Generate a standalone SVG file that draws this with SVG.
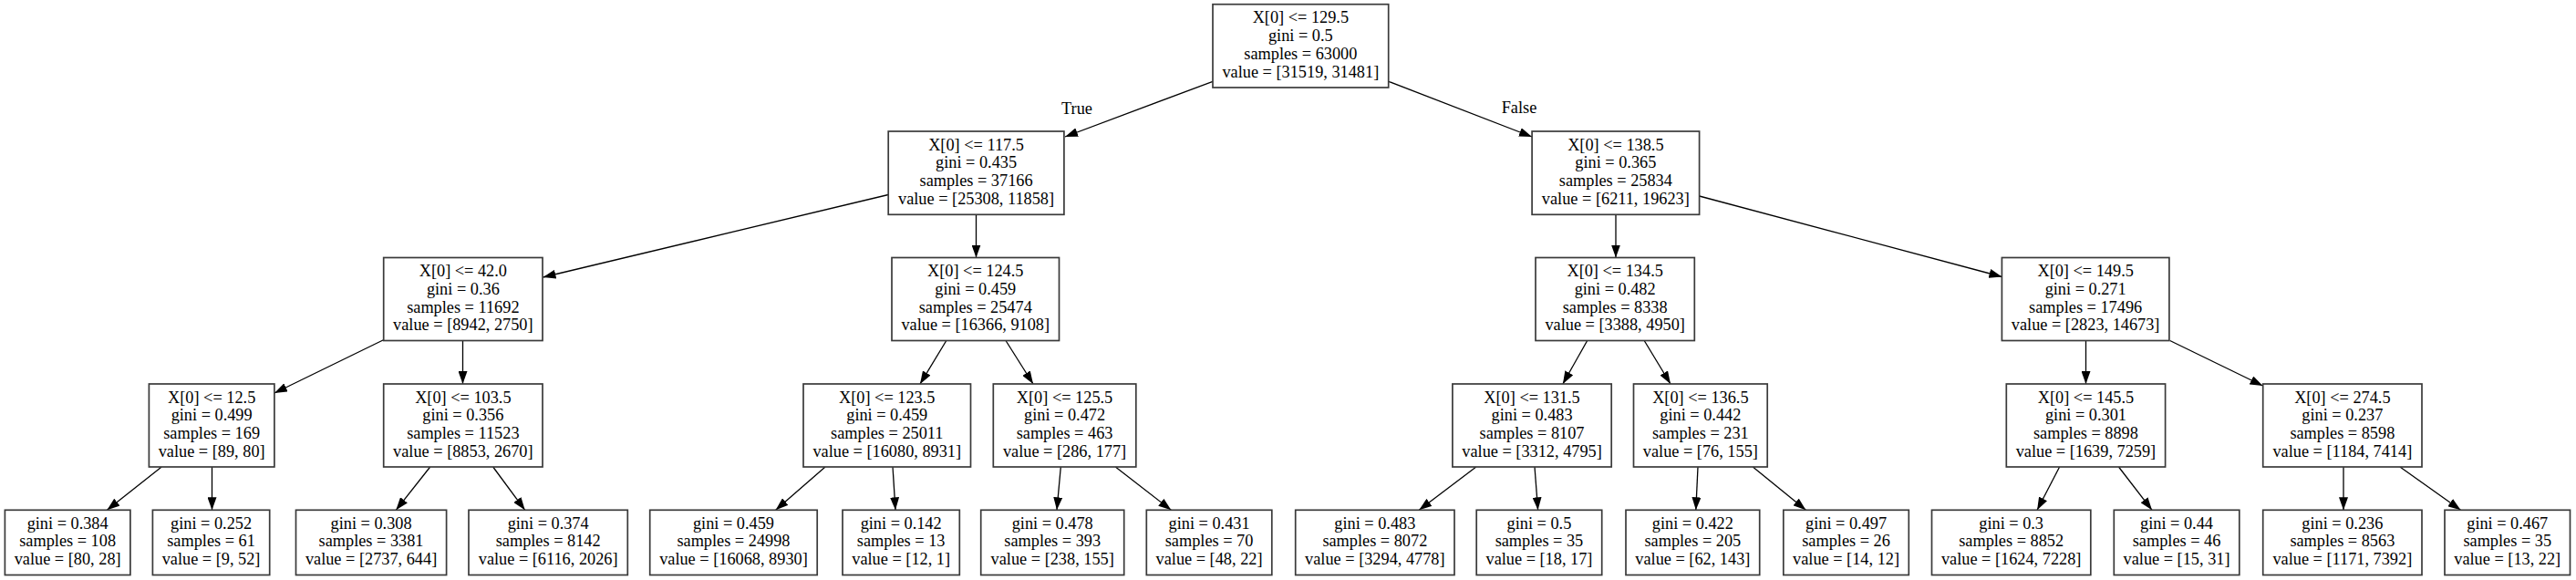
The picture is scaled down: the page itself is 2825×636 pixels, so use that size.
<svg xmlns="http://www.w3.org/2000/svg" width="2825" height="636" viewBox="0 0 2825 636">
<style>
.box{fill:#fff;stroke:#3a3a3a;stroke-width:1.7}
.t{font-family:"Liberation Serif","Times New Roman",serif;font-size:18.3px;fill:#000;text-anchor:middle}
.e{stroke:#000;stroke-width:1.3;fill:none;marker-end:url(#ah)}
</style>
<defs>
<marker id="ah" markerUnits="userSpaceOnUse" viewBox="0 0 14 10" refX="14" refY="5" markerWidth="14" markerHeight="10" orient="auto">
<path d="M0,0 L14,5 L0,10 Z" fill="#000"/>
</marker>
</defs>
<rect width="2825" height="636" fill="#fff"/>
<g id="connectors">
<line class="e" x1="1330" y1="89.3" x2="1168" y2="150"/>
<line class="e" x1="1522.7" y1="89.3" x2="1680" y2="150"/>
<line class="e" x1="974.2" y1="213.5" x2="595.5" y2="304"/>
<line class="e" x1="1070.5" y1="235.3" x2="1070.5" y2="282.5"/>
<line class="e" x1="1772" y1="235.3" x2="1772" y2="282.5"/>
<line class="e" x1="1863.6" y1="215" x2="2195.4" y2="303.5"/>
<line class="e" x1="421" y1="372.5" x2="301" y2="431"/>
<line class="e" x1="507.5" y1="373.5" x2="507.5" y2="421"/>
<line class="e" x1="1037.8" y1="373.5" x2="1009" y2="421"/>
<line class="e" x1="1103" y1="373.5" x2="1133" y2="421"/>
<line class="e" x1="1740.7" y1="373.5" x2="1713.9" y2="421"/>
<line class="e" x1="1803.2" y1="373.5" x2="1832" y2="421"/>
<line class="e" x1="2287.5" y1="373.5" x2="2287.5" y2="421"/>
<line class="e" x1="2379.7" y1="373.5" x2="2481.5" y2="423"/>
<line class="e" x1="177.2" y1="512" x2="117.4" y2="559.3"/>
<line class="e" x1="232.5" y1="512" x2="232.5" y2="559.3"/>
<line class="e" x1="471.7" y1="512" x2="434.3" y2="559.3"/>
<line class="e" x1="540.7" y1="512" x2="575.7" y2="559.3"/>
<line class="e" x1="905" y1="512" x2="850.7" y2="559.3"/>
<line class="e" x1="979" y1="512" x2="982" y2="559.3"/>
<line class="e" x1="1163.3" y1="512" x2="1159" y2="559.3"/>
<line class="e" x1="1223.3" y1="512" x2="1284.3" y2="559.3"/>
<line class="e" x1="1618.8" y1="512" x2="1556.3" y2="559.3"/>
<line class="e" x1="1683" y1="512" x2="1686.6" y2="559.3"/>
<line class="e" x1="1862" y1="512" x2="1859.8" y2="559.3"/>
<line class="e" x1="1922.3" y1="512" x2="1980.4" y2="559.3"/>
<line class="e" x1="2258.6" y1="512" x2="2234.1" y2="559.3"/>
<line class="e" x1="2323.5" y1="512" x2="2360" y2="559.3"/>
<line class="e" x1="2570" y1="512" x2="2570" y2="559.3"/>
<line class="e" x1="2632" y1="512" x2="2698.5" y2="559.3"/>
<text class="t" x="1181" y="125">True</text>
<text class="t" x="1666" y="124">False</text>
</g>
<g id="n0"><rect class="box" x="1330" y="4.7" width="192.7" height="91.3"/>
<text class="t" x="1426.35" y="25.2">X[0] &lt;= 129.5</text><text class="t" x="1426.35" y="45">gini = 0.5</text><text class="t" x="1426.35" y="64.8">samples = 63000</text><text class="t" x="1426.35" y="84.6">value = [31519, 31481]</text></g>
<g id="n1"><rect class="box" x="974.2" y="144" width="192.7" height="91.3"/>
<text class="t" x="1070.55" y="164.5">X[0] &lt;= 117.5</text><text class="t" x="1070.55" y="184.3">gini = 0.435</text><text class="t" x="1070.55" y="204.1">samples = 37166</text><text class="t" x="1070.55" y="223.9">value = [25308, 11858]</text></g>
<g id="n16"><rect class="box" x="1680.1" y="144" width="183.5" height="91.3"/>
<text class="t" x="1771.85" y="164.5">X[0] &lt;= 138.5</text><text class="t" x="1771.85" y="184.3">gini = 0.365</text><text class="t" x="1771.85" y="204.1">samples = 25834</text><text class="t" x="1771.85" y="223.9">value = [6211, 19623]</text></g>
<g id="n2"><rect class="box" x="420.7" y="282.5" width="174.3" height="91"/>
<text class="t" x="507.85" y="303">X[0] &lt;= 42.0</text><text class="t" x="507.85" y="322.8">gini = 0.36</text><text class="t" x="507.85" y="342.6">samples = 11692</text><text class="t" x="507.85" y="362.4">value = [8942, 2750]</text></g>
<g id="n9"><rect class="box" x="978" y="282.5" width="183.5" height="91"/>
<text class="t" x="1069.75" y="303">X[0] &lt;= 124.5</text><text class="t" x="1069.75" y="322.8">gini = 0.459</text><text class="t" x="1069.75" y="342.6">samples = 25474</text><text class="t" x="1069.75" y="362.4">value = [16366, 9108]</text></g>
<g id="n17"><rect class="box" x="1684" y="282.5" width="174.3" height="91"/>
<text class="t" x="1771.15" y="303">X[0] &lt;= 134.5</text><text class="t" x="1771.15" y="322.8">gini = 0.482</text><text class="t" x="1771.15" y="342.6">samples = 8338</text><text class="t" x="1771.15" y="362.4">value = [3388, 4950]</text></g>
<g id="n24"><rect class="box" x="2195.4" y="282.5" width="183.5" height="91"/>
<text class="t" x="2287.15" y="303">X[0] &lt;= 149.5</text><text class="t" x="2287.15" y="322.8">gini = 0.271</text><text class="t" x="2287.15" y="342.6">samples = 17496</text><text class="t" x="2287.15" y="362.4">value = [2823, 14673]</text></g>
<g id="n3"><rect class="box" x="163.4" y="421" width="137.5" height="91"/>
<text class="t" x="232.15" y="441.5">X[0] &lt;= 12.5</text><text class="t" x="232.15" y="461.3">gini = 0.499</text><text class="t" x="232.15" y="481.1">samples = 169</text><text class="t" x="232.15" y="500.9">value = [89, 80]</text></g>
<g id="n6"><rect class="box" x="420.7" y="421" width="174.3" height="91"/>
<text class="t" x="507.85" y="441.5">X[0] &lt;= 103.5</text><text class="t" x="507.85" y="461.3">gini = 0.356</text><text class="t" x="507.85" y="481.1">samples = 11523</text><text class="t" x="507.85" y="500.9">value = [8853, 2670]</text></g>
<g id="n10"><rect class="box" x="881" y="421" width="183.5" height="91"/>
<text class="t" x="972.75" y="441.5">X[0] &lt;= 123.5</text><text class="t" x="972.75" y="461.3">gini = 0.459</text><text class="t" x="972.75" y="481.1">samples = 25011</text><text class="t" x="972.75" y="500.9">value = [16080, 8931]</text></g>
<g id="n13"><rect class="box" x="1089.3" y="421" width="156.5" height="91"/>
<text class="t" x="1167.55" y="441.5">X[0] &lt;= 125.5</text><text class="t" x="1167.55" y="461.3">gini = 0.472</text><text class="t" x="1167.55" y="481.1">samples = 463</text><text class="t" x="1167.55" y="500.9">value = [286, 177]</text></g>
<g id="n18"><rect class="box" x="1592.9" y="421" width="174.3" height="91"/>
<text class="t" x="1680.05" y="441.5">X[0] &lt;= 131.5</text><text class="t" x="1680.05" y="461.3">gini = 0.483</text><text class="t" x="1680.05" y="481.1">samples = 8107</text><text class="t" x="1680.05" y="500.9">value = [3312, 4795]</text></g>
<g id="n21"><rect class="box" x="1791.5" y="421" width="146.7" height="91"/>
<text class="t" x="1864.85" y="441.5">X[0] &lt;= 136.5</text><text class="t" x="1864.85" y="461.3">gini = 0.442</text><text class="t" x="1864.85" y="481.1">samples = 231</text><text class="t" x="1864.85" y="500.9">value = [76, 155]</text></g>
<g id="n25"><rect class="box" x="2200.3" y="421" width="174.3" height="91"/>
<text class="t" x="2287.45" y="441.5">X[0] &lt;= 145.5</text><text class="t" x="2287.45" y="461.3">gini = 0.301</text><text class="t" x="2287.45" y="481.1">samples = 8898</text><text class="t" x="2287.45" y="500.9">value = [1639, 7259]</text></g>
<g id="n28"><rect class="box" x="2481.7" y="421" width="174.3" height="91"/>
<text class="t" x="2568.85" y="441.5">X[0] &lt;= 274.5</text><text class="t" x="2568.85" y="461.3">gini = 0.237</text><text class="t" x="2568.85" y="481.1">samples = 8598</text><text class="t" x="2568.85" y="500.9">value = [1184, 7414]</text></g>
<g id="n4"><rect class="box" x="5.4" y="559.3" width="137.5" height="71.2"/>
<text class="t" x="74.15" y="579.5">gini = 0.384</text><text class="t" x="74.15" y="599.3">samples = 108</text><text class="t" x="74.15" y="619.1">value = [80, 28]</text></g>
<g id="n5"><rect class="box" x="167.4" y="559.3" width="128.3" height="71.2"/>
<text class="t" x="231.55" y="579.5">gini = 0.252</text><text class="t" x="231.55" y="599.3">samples = 61</text><text class="t" x="231.55" y="619.1">value = [9, 52]</text></g>
<g id="n7"><rect class="box" x="324.5" y="559.3" width="165.1" height="71.2"/>
<text class="t" x="407.05" y="579.5">gini = 0.308</text><text class="t" x="407.05" y="599.3">samples = 3381</text><text class="t" x="407.05" y="619.1">value = [2737, 644]</text></g>
<g id="n8"><rect class="box" x="514" y="559.3" width="174.3" height="71.2"/>
<text class="t" x="601.15" y="579.5">gini = 0.374</text><text class="t" x="601.15" y="599.3">samples = 8142</text><text class="t" x="601.15" y="619.1">value = [6116, 2026]</text></g>
<g id="n11"><rect class="box" x="712.7" y="559.3" width="183.5" height="71.2"/>
<text class="t" x="804.45" y="579.5">gini = 0.459</text><text class="t" x="804.45" y="599.3">samples = 24998</text><text class="t" x="804.45" y="619.1">value = [16068, 8930]</text></g>
<g id="n12"><rect class="box" x="924" y="559.3" width="128.3" height="71.2"/>
<text class="t" x="988.15" y="579.5">gini = 0.142</text><text class="t" x="988.15" y="599.3">samples = 13</text><text class="t" x="988.15" y="619.1">value = [12, 1]</text></g>
<g id="n14"><rect class="box" x="1075.7" y="559.3" width="157" height="71.2"/>
<text class="t" x="1154.2" y="579.5">gini = 0.478</text><text class="t" x="1154.2" y="599.3">samples = 393</text><text class="t" x="1154.2" y="619.1">value = [238, 155]</text></g>
<g id="n15"><rect class="box" x="1257.3" y="559.3" width="137.5" height="71.2"/>
<text class="t" x="1326.05" y="579.5">gini = 0.431</text><text class="t" x="1326.05" y="599.3">samples = 70</text><text class="t" x="1326.05" y="619.1">value = [48, 22]</text></g>
<g id="n19"><rect class="box" x="1420.7" y="559.3" width="174.3" height="71.2"/>
<text class="t" x="1507.85" y="579.5">gini = 0.483</text><text class="t" x="1507.85" y="599.3">samples = 8072</text><text class="t" x="1507.85" y="619.1">value = [3294, 4778]</text></g>
<g id="n20"><rect class="box" x="1619.2" y="559.3" width="137.5" height="71.2"/>
<text class="t" x="1687.95" y="579.5">gini = 0.5</text><text class="t" x="1687.95" y="599.3">samples = 35</text><text class="t" x="1687.95" y="619.1">value = [18, 17]</text></g>
<g id="n22"><rect class="box" x="1783" y="559.3" width="146.7" height="71.2"/>
<text class="t" x="1856.35" y="579.5">gini = 0.422</text><text class="t" x="1856.35" y="599.3">samples = 205</text><text class="t" x="1856.35" y="619.1">value = [62, 143]</text></g>
<g id="n23"><rect class="box" x="1955.8" y="559.3" width="137.5" height="71.2"/>
<text class="t" x="2024.55" y="579.5">gini = 0.497</text><text class="t" x="2024.55" y="599.3">samples = 26</text><text class="t" x="2024.55" y="619.1">value = [14, 12]</text></g>
<g id="n26"><rect class="box" x="2118.5" y="559.3" width="174.3" height="71.2"/>
<text class="t" x="2205.65" y="579.5">gini = 0.3</text><text class="t" x="2205.65" y="599.3">samples = 8852</text><text class="t" x="2205.65" y="619.1">value = [1624, 7228]</text></g>
<g id="n27"><rect class="box" x="2318.3" y="559.3" width="137.5" height="71.2"/>
<text class="t" x="2387.05" y="579.5">gini = 0.44</text><text class="t" x="2387.05" y="599.3">samples = 46</text><text class="t" x="2387.05" y="619.1">value = [15, 31]</text></g>
<g id="n29"><rect class="box" x="2481.7" y="559.3" width="174.3" height="71.2"/>
<text class="t" x="2568.85" y="579.5">gini = 0.236</text><text class="t" x="2568.85" y="599.3">samples = 8563</text><text class="t" x="2568.85" y="619.1">value = [1171, 7392]</text></g>
<g id="n30"><rect class="box" x="2681" y="559.3" width="137.5" height="71.2"/>
<text class="t" x="2749.75" y="579.5">gini = 0.467</text><text class="t" x="2749.75" y="599.3">samples = 35</text><text class="t" x="2749.75" y="619.1">value = [13, 22]</text></g>
</svg>
